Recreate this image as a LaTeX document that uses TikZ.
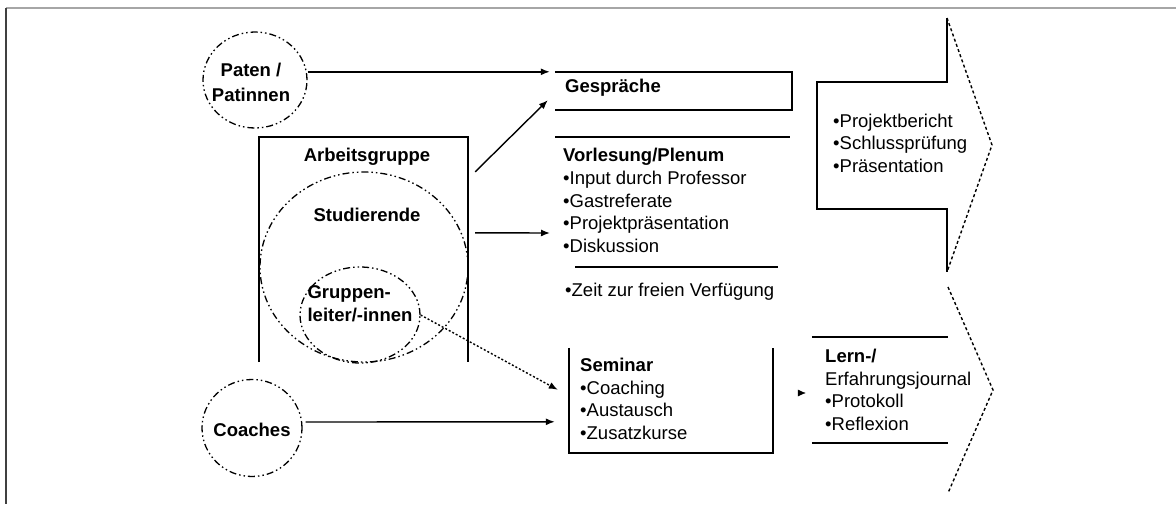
\documentclass[tikz,border=0pt]{standalone}
\usepackage{fontspec}
\setmainfont{Liberation Sans}
\usetikzlibrary{shapes.geometric,arrows.meta}
\begin{document}
\begin{tikzpicture}[x=1pt,y=-1pt,
  txt/.style={inner sep=0pt,font=\fontsize{18.5}{22.6}\selectfont,align=left},
  btxt/.style={txt,font=\fontsize{18.5}{22.6}\selectfont\bfseries},
  ring/.style={draw,ellipse,inner sep=0pt,line width=1.3pt,
    dash pattern=on 7pt off 3pt on 1.5pt off 3pt on 1.5pt off 3pt},
  solidline/.style={line width=1.6pt},
  arr/.style={line width=1.4pt,-{Latex[length=9pt,width=7pt]}},
  dotarr/.style={line width=1.4pt,dash pattern=on 2pt off 2pt,-{Latex[length=9pt,width=7pt]}},
  dots/.style={line width=1.4pt,dash pattern=on 3pt off 2.5pt},
  area/.style={inner sep=0pt,minimum width=#1}
]
\useasboundingbox (0,0) rectangle (1176,504);
% outer frame
\draw[line width=2pt,gray!70] (6,8) -- (1176,8);
\draw[line width=2pt,black!75] (6,8) -- (6,504);

% left side: circles and working group
\node[ring,minimum width=104pt,minimum height=96pt] (Paten) at (255,80) {};
\node[txt,align=center] (patentxt) at (251,82.5) {\bfseries Paten /\\[2pt]\bfseries Patinnen};

\node[ring,minimum width=100pt,minimum height=97pt] (Coaches) at (252,428) {};
\node[btxt] (coachtxt) at (252,430) {Coaches};

\node[inner sep=0pt,minimum width=209pt,minimum height=225pt] (AG) at (363.5,249.5) {};
\draw[solidline] (AG.south west) -- (AG.north west) -- (AG.north east) -- (AG.south east);
\node[btxt] (agtxt) at (367,157) {Arbeitsgruppe};

\node[ring,minimum width=208pt,minimum height=190pt] (Stud) at (364,267) {};
\node[btxt] (studtxt) at (367,215) {Studierende};

\node[ring,minimum width=120pt,minimum height=96pt] (Gruppen) at (360,315) {};
\node[btxt,align=left] (grtxt) at (360,304) {Gruppen-\\leiter/-innen};

% middle column
\node[inner sep=0pt,minimum width=237pt,minimum height=38pt] (ges) at (673.5,91) {};
\draw[solidline] (ges.north west) -- (ges.north east) -- (ges.south east) -- (ges.south west);
\node[btxt,anchor=west] (gestxt) at (565,88) {Gespräche};

\coordinate (vtop) at (555,137);
\draw[solidline] (vtop) -- (790,137);
\node[txt,anchor=west] (vorl) at (563,200.5) {\bfseries Vorlesung/Plenum\\•Input durch Professor\\•Gastreferate\\•Projektpräsentation\\•Diskussion};
\draw[solidline] (575,267) -- (778,267);
\node[txt,anchor=west] (zeit) at (565,292) {•Zeit zur freien Verfügung};

\node[inner sep=0pt,minimum width=204pt,minimum height=105pt] (sem) at (671,400.5) {};
\draw[solidline] (sem.north west) -- (sem.south west) -- (sem.south east) -- (sem.north east);
\node[txt,anchor=west] (semtxt) at (580,399) {\bfseries Seminar\\•Coaching\\•Austausch\\•Zusatzkurse};

% right column
\node[inner sep=0pt,minimum width=136pt,minimum height=106pt] (lern) at (880,390) {};
\draw[solidline] (lern.north west) -- (lern.north east);
\draw[solidline] (lern.south west) -- (lern.south east);
\node[txt,anchor=west] (lerntxt) at (825,390) {\bfseries Lern-/\\Erfahrungsjournal\\•Protokoll\\•Reflexion};

% big arrow
\draw[solidline] (947,18) -- (947,82) -- (817,82) -- (817,209) -- (947,209) -- (947,272);
\draw[dots] (947,18) -- (992,145) -- (947,272);
\node[txt,anchor=west] (restxt) at (833,143) {•Projektbericht\\•Schlussprüfung\\•Präsentation};
% lower chevron
\draw[dots] (948,287) -- (993,390) -- (948,493);

% connectors
\draw[arr] (Paten.east |- ges.north west) -- ([shift={(-5,0)}]ges.north west);
\draw[arr] ([shift={(7,35)}]AG.north east) -- ([shift={(-7,-10)}]ges.south west);
\draw[arr] ([shift={(7,96)}]AG.north east) -- ([shift={(-5,96)}]vtop);
\draw[dotarr] (Gruppen.east) -- ([shift={(-11,42)}]sem.north west);
\draw[arr] ([shift={(3,-6)}]Coaches.east) -- ([shift={(-14,74)}]sem.north west);
\coordinate (tipstart) at (799,393);
\draw[-{Latex[length=8pt,width=7pt]}] (tipstart) -- ([shift={(-6,3)}]lern.west);
\end{tikzpicture}
\end{document}
